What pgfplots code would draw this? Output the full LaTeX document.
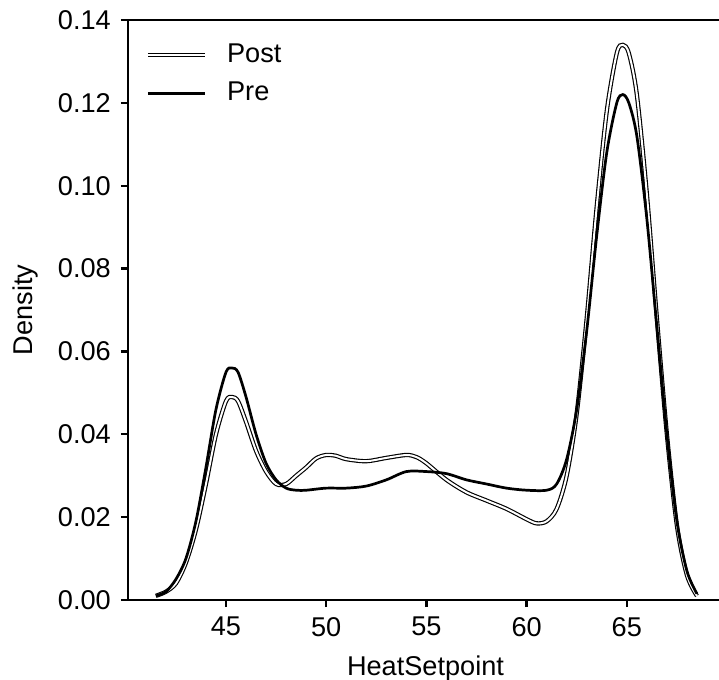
\documentclass[border=0pt]{standalone}
\usepackage{fontspec}
\setmainfont{Liberation Sans}
\usepackage{pgfplots}
\pgfplotsset{compat=1.18}
\begin{document}
\begin{tikzpicture}
\begin{axis}[
  scale only axis,
  width=208.25pt, height=203pt,
  xmin=40.11, xmax=69.8, ymin=0, ymax=0.14,
  xtick={45,50,55,60,65},
  ytick={0,0.02,0.04,0.06,0.08,0.10,0.12,0.14},
  scaled y ticks=false,
  yticklabel style={/pgf/number format/fixed, /pgf/number format/fixed zerofill, /pgf/number format/precision=2},
  /pgf/number format/assume math mode=true,
  tick label style={font=\fontsize{9.5}{11}\selectfont},
  label style={font=\fontsize{9.5}{11}\selectfont},
  xtick pos=bottom, ytick pos=left,
  tick align=outside, major tick length=2.5pt,
  every tick/.style={black, line width=0.8pt},
  axis line style={line width=0.9pt},
  xlabel={HeatSetpoint}, ylabel={Density},
  legend style={draw=none, fill=none, at={(rel axis cs:0,1)}, anchor=north west,
    xshift=3pt, yshift=-4pt, font=\fontsize{9.5}{11}\selectfont, row sep=1.5pt},
  legend cell align=left,
  legend image code/.code={\draw[#1, line cap=butt] (0pt,0pt) -- (20pt,0pt); \path (25pt,0pt);},
]
\addplot[draw=black, line width=0.4pt, double=white, double distance=0.7pt, smooth, tension=0.5] coordinates {
(41.5,0.001) (42,0.002) (42.5,0.004) (43,0.009) (43.5,0.017) (44,0.028) (44.5,0.040)
(45,0.048) (45.3,0.049) (45.6,0.048) (46,0.043) (46.5,0.036) (47,0.031) (47.5,0.028)
(48,0.028) (48.5,0.030) (49,0.032) (49.5,0.0342) (50,0.035) (50.5,0.0348) (51,0.034)
(52,0.0335) (53,0.0343) (54,0.035) (54.5,0.0345) (55,0.033) (56,0.029) (57,0.026)
(58,0.024) (59,0.022) (60,0.0195) (60.5,0.0185) (61,0.019) (61.5,0.022) (62,0.030)
(62.5,0.045) (63,0.068) (63.5,0.095) (64,0.118) (64.5,0.132) (64.8,0.134) (65.1,0.132)
(65.5,0.122) (66,0.098) (66.5,0.068) (67,0.040) (67.5,0.018) (68,0.006) (68.5,0.001)
};
\addlegendentry{Post}
\addplot[draw=black, line width=0.95pt, smooth, tension=0.5] coordinates {
(41.5,0.001) (42,0.002) (42.5,0.005) (43,0.010) (43.5,0.019) (44,0.032) (44.5,0.046)
(45,0.055) (45.3,0.056) (45.6,0.055) (46,0.049) (46.5,0.040) (47,0.033) (47.5,0.029)
(48,0.027) (48.5,0.0265) (49,0.0265) (50,0.027) (51,0.027) (52,0.0275) (53,0.029)
(54,0.031) (55,0.031) (56,0.0305) (57,0.029) (58,0.028) (59,0.027) (60,0.0265)
(61,0.0265) (61.5,0.028) (62,0.034) (62.5,0.046) (63,0.065) (63.5,0.088) (64,0.108)
(64.5,0.120) (64.8,0.122) (65.1,0.120) (65.5,0.112) (66,0.092) (66.5,0.066) (67,0.040)
(67.5,0.019) (68,0.007) (68.5,0.0015)
};
\addlegendentry{Pre}
\end{axis}
\pgfresetboundingbox
\path[use as bounding box] (-44.8pt,-28pt) rectangle (206.85pt,210pt);
\end{tikzpicture}
\end{document}
